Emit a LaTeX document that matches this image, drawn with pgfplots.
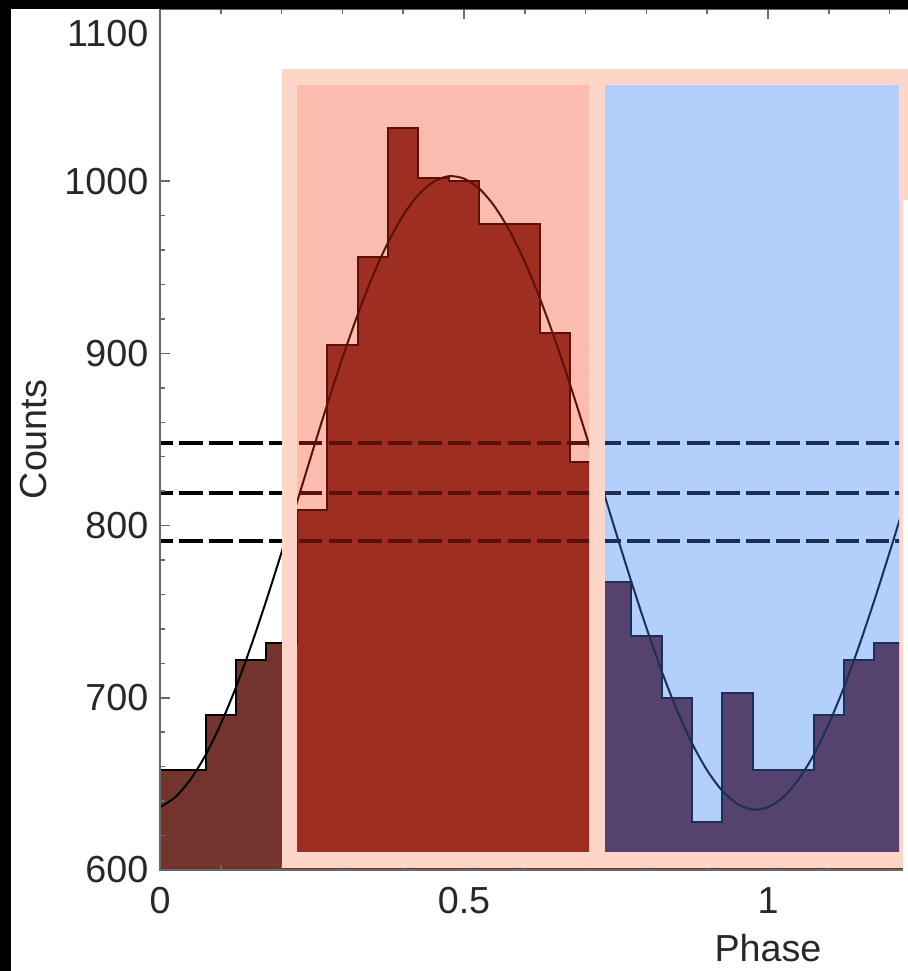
\documentclass[border=0pt]{standalone}
\usepackage{fontspec}
\setmainfont{Liberation Sans}
\usepackage{pgfplots}
\pgfplotsset{compat=1.18}
\usepackage{pgfplotstable}

\definecolor{histbase}{RGB}{116,52,46}
\definecolor{redbg}{RGB}{251,188,176}
\definecolor{redfill}{RGB}{158,46,34}
\definecolor{redline}{RGB}{92,16,10}
\definecolor{framepink}{RGB}{253,214,201}
\definecolor{bluebg}{RGB}{178,208,251}
\definecolor{bluefill}{RGB}{86,66,110}
\definecolor{blueline}{RGB}{26,48,86}
\definecolor{spine}{RGB}{105,105,105}
\definecolor{labeltext}{RGB}{40,40,40}

% phase-folded light curve, 0.05-wide bins (left edge of each step, counts)
\pgfplotstableread{
phase counts
0.000 658
0.025 658
0.075 690
0.125 722
0.175 732
0.225 809
0.275 905
0.325 956
0.375 1031
0.425 1002
0.475 1000
0.525 975
0.575 975
0.625 912
0.675 837
0.725 767
0.775 736
0.825 700
0.875 628
0.925 703
0.975 658
1.025 658
1.075 690
1.125 722
1.175 732
1.225 809
1.275 905
1.325 905
}\histdata

% sinusoidal fit to the folded counts
\pgfplotstableread{
phase counts
0.000 636.5
0.025 642.3
0.050 652.5
0.075 666.8
0.100 684.9
0.125 706.2
0.150 730.4
0.175 756.7
0.200 784.5
0.225 813.2
0.250 842.1
0.275 870.3
0.300 897.3
0.325 922.4
0.350 945.0
0.375 964.4
0.400 980.2
0.425 992.1
0.450 999.7
0.475 1002.9
0.500 1001.5
0.525 995.7
0.550 985.5
0.575 971.2
0.600 953.1
0.625 931.8
0.650 907.6
0.675 881.3
0.700 853.5
0.725 824.8
0.750 795.9
0.775 767.7
0.800 740.7
0.825 715.6
0.850 693.0
0.875 673.6
0.900 657.8
0.925 645.9
0.950 638.3
0.975 635.1
1.000 636.5
1.025 642.3
1.050 652.5
1.075 666.8
1.100 684.9
1.125 706.2
1.150 730.4
1.175 756.7
1.200 784.5
1.225 813.2
1.250 842.1
1.275 870.3
}\fitdata

\pgfplotsset{
  frame geometry/.style={
    scale only axis, width=364.8pt, height=258.3pt,
    at={(48pt,30.3pt)}, anchor=south west,
    xmin=0, xmax=2, ymin=600, ymax=1100,
  },
}

% histogram, fit and the three reference levels in a given colour set
\newcommand{\drawlayers}[2]{%
  \addplot[const plot, fill=#1, draw=#2, line width=0.6pt]
    table[x=phase, y=counts]{\histdata} \closedcycle;
  \addplot[smooth, draw=#2, line width=0.6pt]
    table[x=phase, y=counts]{\fitdata};
  \addplot[draw=#2, line width=1.25pt, dash pattern=on 7.05pt off 1.9pt, dash phase=3.15pt]
    coordinates {(0,848) (1.4,848)};
  \addplot[draw=#2, line width=1.25pt, dash pattern=on 7.05pt off 1.9pt, dash phase=3.15pt]
    coordinates {(0,819) (1.4,819)};
  \addplot[draw=#2, line width=1.25pt, dash pattern=on 7.05pt off 1.9pt, dash phase=3.15pt]
    coordinates {(0,791) (1.4,791)};
}

\begin{document}
\begin{tikzpicture}
\useasboundingbox (0,0) rectangle (272.4pt,291.3pt);
\clip (0,0) rectangle (272.4pt,291.3pt);
\fill[white] (0,0) rectangle (272.4pt,291.3pt);

\begin{axis}[
  frame geometry,
  axis on top,
  axis line style={draw=spine, line width=0.45pt},
  x axis line style={draw=black!80, line width=0.8pt},
  tick style={draw=spine, line width=0.45pt},
  tick align=inside,
  major tick length=3pt, minor tick length=1.6pt,
  xtick={0,0.5,1},
  minor xtick={0.1,0.2,0.3,0.4,0.6,0.7,0.8,0.9,1.1,1.2,1.3},
  ytick={600,700,800,900,1000}, minor y tick num=4,
  extra y ticks={1100},
  extra y tick style={yticklabel style={yshift=-7.5pt}},
  ticklabel style={font=\fontsize{11.3}{13.5}\selectfont, text=labeltext},
  /pgf/number format/assume math mode=true,
  /pgf/number format/1000 sep={},
  xticklabel style={yshift=-1.6pt},
  xlabel={Phase}, ylabel={Counts},
  label style={font=\fontsize{11.3}{13.5}\selectfont, text=labeltext},
  xlabel style={at={(axis description cs:0.5,-0.061)}, anchor=north},
  ylabel style={at={(axis description cs:-0.1036,0.5)}, anchor=center},
]
  \drawlayers{histbase}{black}
\end{axis}

% highlight frame
\fill[framepink] (84.6pt,30.9pt) rectangle (270.9pt,270.6pt);
\fill[framepink] (270.9pt,231.3pt) rectangle (272.4pt,270.6pt);
\fill[white] (270.9pt,0pt) rectangle (272.4pt,231.3pt);

% rising/peak half
\begin{scope}
  \clip (89.1pt,35.7pt) rectangle (176.7pt,265.8pt);
  \fill[redbg] (89.1pt,35.7pt) rectangle (176.7pt,265.8pt);
  \begin{axis}[frame geometry, hide axis]
    \drawlayers{redfill}{redline}
  \end{axis}
\end{scope}

% falling/trough half
\begin{scope}
  \clip (181.5pt,35.7pt) rectangle (269.7pt,265.8pt);
  \fill[bluebg] (181.5pt,35.7pt) rectangle (269.7pt,265.8pt);
  \begin{axis}[frame geometry, hide axis]
    \drawlayers{bluefill}{blueline}
  \end{axis}
\end{scope}

% dark margins
\fill[black] (0,0) rectangle (3.3pt,291.3pt);
\fill[black] (0,288.6pt) rectangle (272.4pt,291.3pt);
\end{tikzpicture}
\end{document}
